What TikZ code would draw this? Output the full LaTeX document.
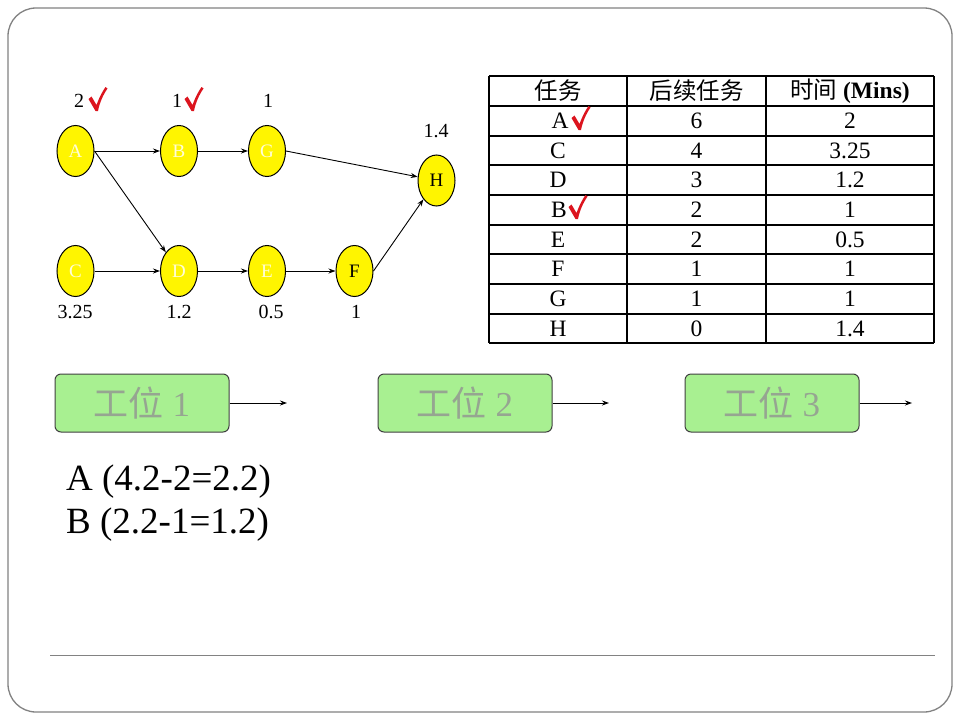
\documentclass[tikz,border=0pt]{standalone}
\usepackage{fontspec}
\setmainfont{Liberation Serif}
\newfontfamily\cjk{Noto Sans CJK SC}
\usetikzlibrary{shapes.geometric,arrows.meta}
\definecolor{nodeyellow}{RGB}{255,245,0}
\definecolor{boxgreen}{RGB}{168,240,145}
\definecolor{boxtext}{RGB}{150,165,145}
\definecolor{framegray}{RGB}{130,130,130}
\definecolor{checkred}{RGB}{220,20,30}
\tikzset{
  task/.style={ellipse,draw=black,line width=1pt,fill=nodeyellow,minimum width=37pt,minimum height=51pt,inner sep=0pt,font=\fontsize{19}{19}\selectfont},
  faint/.style={text=white!85!yellow},
  lbl/.style={font=\fontsize{20}{20}\selectfont,inner sep=0pt},
  conn/.style={-{Stealth[length=7pt,width=5pt]},line width=0.9pt},
  cell/.style={font=\fontsize{23.5}{23.5}\selectfont,inner sep=0pt},
  grid/.style={line width=2.2pt,black},
  station/.style={draw=black!75,line width=1pt,fill=boxgreen,rounded corners=6pt,minimum width=174pt,minimum height=58pt,inner sep=0pt,text=boxtext,font=\fontsize{35}{35}\selectfont},
  big/.style={font=\fontsize{37}{37}\selectfont,inner sep=0pt,anchor=west},
  tick/.pic={
    \fill[checkred] (-8.5,-12) -- (-5.5,-14.5) -- (-0.5,-6) .. controls (2,-13) and (5,-19) .. (8.5,-24)
      -- (10.5,-22.5) .. controls (6,-16) and (2.5,-8) .. (1,0) -- (-1.5,0) -- cycle;
  }
}
\begin{document}
\begin{tikzpicture}[x=1pt,y=-1pt]
\useasboundingbox (0,0) rectangle (960,720);
\fill[white] (0,0) rectangle (960,720);
\draw[framegray,line width=1.3pt,rounded corners=28pt] (8,8) rectangle (952,712);
\draw[framegray,line width=0.8pt] (50,655) -- (935,655);

% graph nodes
\node[task,faint] (A) at (75.5,151) {A};
\node[task,faint] (B) at (179,151) {B};
\node[task,faint] (G) at (267,151) {G};
\node[task] (H) at (436.5,180.5) {H};
\node[task,faint] (C) at (75.5,271) {C};
\node[task,faint] (D) at (179,271) {D};
\node[task,faint] (E) at (267,271) {E};
\node[task] (F) at (354.5,271) {F};

\draw[conn] (A) -- (B);
\draw[conn] (B) -- (G);
\draw[conn] (G.east) -- (H);
\draw[conn] (A.east) -- (D);
\draw[conn] (C) -- (D);
\draw[conn] (D) -- (E);
\draw[conn] (E) -- (F);
\draw[conn] (F.east) -- (H);

% time labels
\node[lbl] (tA) at (79,101) {2};
\pic (kA) at (97,111) {tick};
\node[lbl] (tB) at (177,101) {1};
\pic (kB) at (193,111) {tick};
\node[lbl] (tG) at (268,101) {1};
\node[lbl] (tH) at (436,131) {1.4};
\node[lbl] (tC) at (75,312) {3.25};
\node[lbl] (tD) at (179,312) {1.2};
\node[lbl] (tE) at (271,312) {0.5};
\node[lbl] (tF) at (356,312) {1};

% table grid
\foreach \y in {76,106,136,165,195,225,254,284,314,343}
  \draw[grid] (489,\y) -- (934,\y);
\foreach \x in {489,627,766,934}
  \draw[grid] (\x,76) -- (\x,343);

\node[cell] (h1) at (558,91) {\cjk 任务};
\node[cell] (h2) at (696.5,91) {\cjk 后续任务};
\node[cell] (h3) at (850,91) {{\cjk 时间} \textbf{(Mins)}};

\node[cell] (r1a) at (560,121) {A};
\pic (k1) at (580,130) {tick};
\node[cell] (r1b) at (696.5,121) {6};
\node[cell] (r1c) at (850,121) {2};
\node[cell] (r2a) at (558,150.5) {C};
\node[cell] (r2b) at (696.5,150.5) {4};
\node[cell] (r2c) at (850,150.5) {3.25};
\node[cell] (r3a) at (558,180) {D};
\node[cell] (r3b) at (696.5,180) {3};
\node[cell] (r3c) at (850,180) {1.2};
\node[cell] (r4a) at (559,210) {B};
\pic (k4) at (577,219) {tick};
\node[cell] (r4b) at (696.5,210) {2};
\node[cell] (r4c) at (850,210) {1};
\node[cell] (r5a) at (558,239.5) {E};
\node[cell] (r5b) at (696.5,239.5) {2};
\node[cell] (r5c) at (850,239.5) {0.5};
\node[cell] (r6a) at (558,269) {F};
\node[cell] (r6b) at (696.5,269) {1};
\node[cell] (r6c) at (850,269) {1};
\node[cell] (r7a) at (558,299) {G};
\node[cell] (r7b) at (696.5,299) {1};
\node[cell] (r7c) at (850,299) {1};
\node[cell] (r8a) at (558,328.5) {H};
\node[cell] (r8b) at (696.5,328.5) {0};
\node[cell] (r8c) at (850,328.5) {1.4};

% stations
\node[station] (S1) at (142,403) {{\cjk 工位} 1};
\node[station] (S2) at (465,403) {{\cjk 工位} 2};
\node[station] (S3) at (772,403) {{\cjk 工位} 3};
\coordinate (o1) at (287,403);
\coordinate (o2) at (609,403);
\coordinate (o3) at (912,403);
\draw[conn] (S1.east) -- (o1);
\draw[conn] (S2.east) -- (o2);
\draw[conn] (S3.east) -- (o3);

\node[big] (L1) at (66,482) {A (4.2-2=2.2)};
\node[big] (L2) at (66,525) {B (2.2-1=1.2)};
\end{tikzpicture}
\end{document}
